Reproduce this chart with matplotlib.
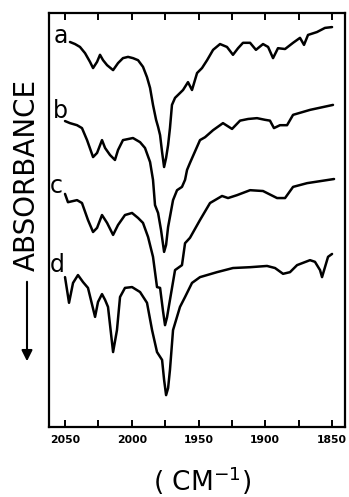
import matplotlib
matplotlib.use("Agg")
import matplotlib.pyplot as plt

# ---- data: wavenumber (cm^-1) and signal (arbitrary units, 0-100) ----
wn_a = [2046.3, 2042.5, 2038.8, 2035.0, 2031.3, 2029.0, 2026.0, 2023.8, 2021.5, 2018.5,
        2014.0, 2010.3, 2006.6, 2002.8, 1999.1, 1995.3, 1991.6, 1988.6, 1986.3, 1984.1,
        1981.8, 1980.3, 1978.8, 1977.3, 1975.8, 1974.3, 1972.8, 1971.4, 1969.9, 1967.6,
        1961.6, 1957.9, 1954.9, 1951.1, 1947.4, 1943.6, 1939.1, 1933.9, 1928.7, 1924.2,
        1920.4, 1916.7, 1911.4, 1907.0, 1901.7, 1897.9, 1894.2, 1890.5, 1885.2, 1879.2,
        1874.0, 1871.0, 1868.0, 1861.3, 1855.3, 1850.0]
val_a = [93.0, 92.5, 91.8, 90.3, 88.2, 86.7, 88.2, 89.9, 88.6, 87.4,
         86.2, 87.9, 89.1, 89.4, 89.1, 88.6, 87.0, 84.5, 81.9, 77.8,
         74.2, 72.5, 70.5, 66.4, 62.8, 65.0, 68.1, 72.2, 77.8, 79.5,
         81.4, 83.3, 81.4, 85.5, 86.7, 88.6, 91.1, 92.5, 91.8, 89.9,
         91.5, 92.8, 92.8, 91.1, 92.5, 91.8, 89.1, 91.5, 91.3, 92.8,
         94.0, 92.3, 94.7, 95.4, 96.4, 96.6]

wn_b = [2050.0, 2046.3, 2041.0, 2037.3, 2033.5, 2029.0, 2026.0, 2022.3, 2020.0, 2016.3,
        2012.6, 2010.3, 2006.6, 1999.1, 1993.8, 1990.1, 1986.3, 1984.1, 1982.6, 1980.3,
        1978.1, 1975.8, 1974.3, 1972.8, 1969.1, 1966.1, 1962.4, 1960.1, 1958.6, 1956.4,
        1948.9, 1945.1, 1939.1, 1931.7, 1924.9, 1918.9, 1912.9, 1906.2, 1900.2, 1896.5,
        1893.5, 1889.0, 1883.7, 1879.2, 1866.5, 1849.3]
val_b = [73.9, 73.4, 72.9, 72.2, 69.3, 65.2, 66.2, 69.3, 67.4, 65.7,
         64.5, 66.9, 69.3, 69.8, 68.8, 67.4, 64.0, 59.7, 53.6, 51.7,
         47.6, 42.3, 44.0, 48.3, 54.8, 57.2, 58.0, 59.7, 62.1, 63.8,
         69.3, 70.0, 71.7, 73.4, 72.0, 74.0, 74.4, 74.6, 74.2, 74.0,
         72.2, 72.9, 72.9, 75.4, 76.6, 77.8]

wn_c = [2050.0, 2047.8, 2041.0, 2037.3, 2032.8, 2029.0, 2026.0, 2022.3, 2018.5, 2014.0,
        2010.3, 2005.1, 1999.8, 1995.3, 1991.6, 1987.8, 1984.1, 1981.1, 1978.8, 1976.6,
        1975.1, 1973.6, 1971.4, 1967.6, 1962.4, 1960.1, 1956.4, 1948.9, 1941.4, 1932.4,
        1927.9, 1921.2, 1911.4, 1901.7, 1891.2, 1885.2, 1879.2, 1868.7, 1848.5]
val_c = [56.3, 54.3, 54.8, 54.1, 50.0, 47.1, 48.1, 51.2, 49.3, 46.4,
         48.8, 51.2, 51.7, 50.5, 49.3, 45.9, 41.1, 33.8, 33.6, 28.0,
         24.6, 26.5, 30.7, 37.9, 39.1, 44.4, 45.7, 50.0, 54.1, 55.8,
         55.3, 56.0, 57.2, 57.0, 55.3, 55.3, 58.0, 58.9, 59.9]

wn_d = [2050.0, 2047.0, 2044.0, 2040.3, 2036.5, 2032.8, 2027.5, 2025.3, 2022.3, 2020.0,
        2017.8, 2014.0, 2011.1, 2008.8, 2005.1, 1999.8, 1993.8, 1988.6, 1984.8, 1981.1,
        1977.3, 1975.8, 1974.3, 1972.8, 1971.4, 1969.1, 1963.9, 1960.1, 1954.9, 1948.9,
        1936.2, 1924.2, 1911.4, 1898.7, 1892.7, 1886.7, 1881.5, 1876.2, 1866.5, 1862.8,
        1859.0, 1857.5, 1855.3, 1853.0, 1850.0]
val_d = [36.2, 30.0, 34.8, 36.7, 35.0, 33.6, 26.6, 30.2, 32.1, 30.7,
         29.0, 18.1, 23.4, 31.4, 33.6, 33.8, 32.6, 30.0, 23.4, 18.1,
         16.2, 11.4, 7.7, 9.4, 13.8, 23.4, 29.0, 31.4, 34.8, 36.2,
         37.4, 38.4, 38.6, 38.9, 38.4, 37.0, 37.4, 39.1, 40.3, 39.9,
         37.9, 36.2, 38.6, 41.1, 41.8]

curve_names = ["a", "b", "c", "d"]
label_wn = [2053.0, 2053.7, 2056.7, 2055.6]
label_val = [92.8, 74.6, 56.5, 37.4]

major_ticks = [2050, 2000, 1950, 1900, 1850]
major_labels = ["2050", "2000", "1950", "1900", "1850"]
minor_ticks = [2025, 1975, 1925, 1875]

# ---- figure ----
W, H = 349, 497
fig = plt.figure(figsize=(W / 100, H / 100), dpi=100)
ax = fig.add_axes([49 / W, 1 - 427 / H, 296 / W, 414 / H])

for wn, val in [(wn_a, val_a), (wn_b, val_b), (wn_c, val_c), (wn_d, val_d)]:
    ax.plot(wn, val, color="black", lw=1.8, solid_joinstyle="round",
            solid_capstyle="round")

for name, x, y in zip(curve_names, label_wn, label_val):
    ax.text(x, y, name, ha="center", va="baseline", fontsize=17, color="black")

ax.set_xlim(2062.0, 1840.3)
ax.set_ylim(0, 100)

ax.set_xticks(major_ticks)
ax.set_xticklabels(major_labels, fontsize=7.8, fontweight="bold")
ax.set_xticks(minor_ticks, minor=True)
ax.tick_params(axis="x", which="both", direction="in", top=True, bottom=True,
               length=5, width=1.4, pad=5.5)
ax.set_yticks([])
for sp in ax.spines.values():
    sp.set_linewidth(1.6)

# y label with downward arrow
fig.text(27 / W, 1 - 175 / H, "ABSORBANCE", rotation=90, ha="center", va="center",
         fontsize=20, color="black")
fig.add_artist(matplotlib.patches.FancyArrowPatch(
    (27 / W, 1 - 279 / H), (27 / W, 1 - 364 / H), transform=fig.transFigure,
    arrowstyle="-|>", mutation_scale=16, lw=1.5, color="black"))

# x label
fig.text(202 / W, 1 - 481 / H, "( CM$^{-1}$)", ha="center", va="center",
         fontsize=19, color="black")

fig.savefig("out.png", dpi=100)
